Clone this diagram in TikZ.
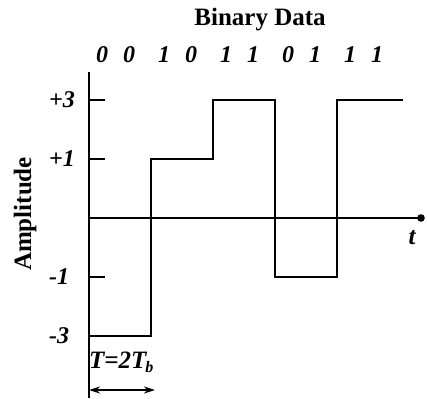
\documentclass[tikz,border=0pt]{standalone}
\usepackage{fontspec}
\setmainfont{Liberation Serif}
\usetikzlibrary{arrows.meta}
\tikzset{
  axis/.style={line width=2.2pt},
  wave/.style={line width=2.2pt, line join=miter},
  tick/.style={line width=2.2pt},
  title/.style={font=\fontsize{25}{27}\selectfont\bfseries, inner sep=0pt},
  bit/.style={font=\fontsize{24}{26}\selectfont\bfseries\itshape, inner sep=0pt,
              anchor=base},
  lvl/.style={font=\fontsize{24}{26}\selectfont\bfseries\itshape, inner sep=0pt,
              anchor=west},
  span/.style={{Stealth[length=11pt,width=7pt]}-{Stealth[length=11pt,width=7pt]},
               line width=2.2pt},
}

\begin{document}
\begin{tikzpicture}[x=1pt, y=1pt]
\useasboundingbox (-89,-180) rectangle (338,218);

% axes
\coordinate (ytop) at (0,146);
\coordinate (ybot) at (0,-180);
\coordinate (o) at (0,0);
\coordinate (tend) at (332,0);
\draw[axis] (ytop) -- (ybot);
\draw[axis] (o) -- (tend);
\fill (tend) circle (3.8pt);
\node[font=\fontsize{25}{27}\selectfont\bfseries\itshape] (tlab) at (323,-20) {t};

% amplitude levels
\foreach \y/\txt in {118/{+3}, 59/{+1}, -59/{-1}, -118/{-3}} {
  \draw[tick] (0,\y) -- (16,\y);
  \node[lvl] (lv\y) at (-40,\y) {\txt};
}
\node[title, rotate=90] (amp) at (-64,4) {Amplitude};

% symbols and their bit pairs
\node[title, anchor=base] (head) at (171,192) {Binary Data};
\foreach \i/\a/\b in {0/0/0, 1/1/0, 2/1/1, 3/0/1, 4/1/1} {
  \node[bit] (ba\i) at (62*\i+13,155) {\a};
  \node[bit] (bb\i) at (62*\i+40,155) {\b};
}

% four-level waveform
\draw[wave] (0,-118) -- (62,-118) -- (62,59) -- (124,59) -- (124,118)
  -- (186,118) -- (186,-59) -- (248,-59) -- (248,118) -- (314,118);

% symbol period
\node[font=\fontsize{25}{27}\selectfont\bfseries\itshape, inner sep=0pt,
      anchor=base west] (per) at (0,-150)
  {T=2T\kern-1pt\raisebox{-0.4ex}{\fontsize{16}{16}\selectfont b}};
\coordinate (pa) at (0,-172);
\coordinate (pb) at (66,-172);
\draw[span] (pa) -- (pb);

\end{tikzpicture}
\end{document}
